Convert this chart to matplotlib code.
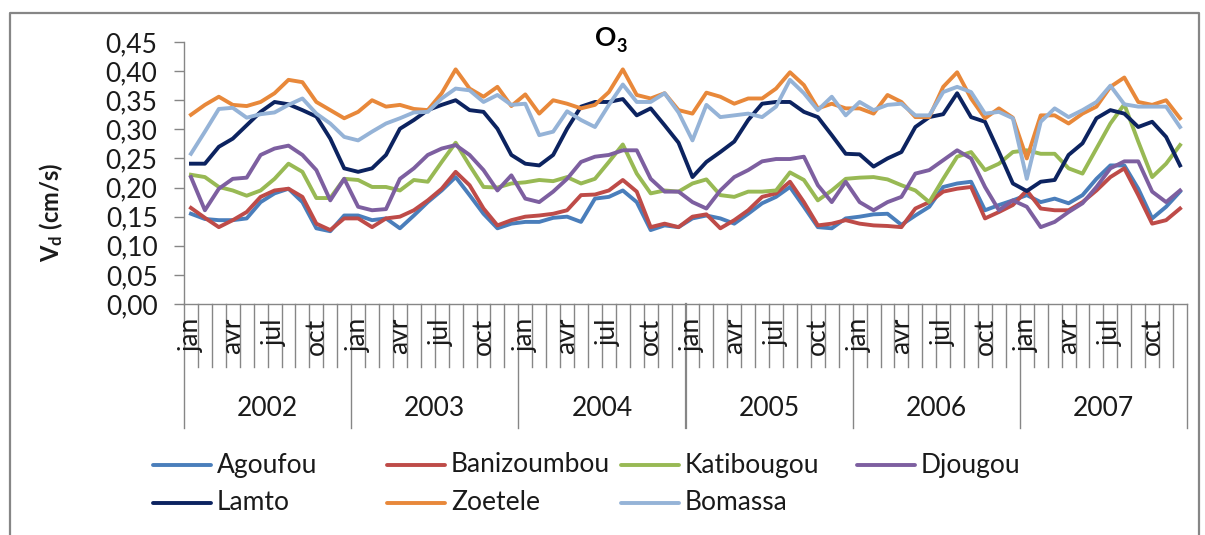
import matplotlib
matplotlib.use("Agg")
import matplotlib.pyplot as plt
from matplotlib.lines import Line2D
from matplotlib.ticker import FuncFormatter

plt.rcParams['font.family'] = ['Lato', 'DejaVu Sans']
plt.rcParams['mathtext.fontset'] = 'custom'
plt.rcParams['mathtext.rm'] = 'Lato'
plt.rcParams['mathtext.bf'] = 'Lato:bold'

years = ['2002', '2003', '2004', '2005', '2006', '2007']
month_labels = {0: 'jan', 3: 'avr', 6: 'jul', 9: 'oct'}

agoufou = [0.155, 0.146, 0.144, 0.144, 0.147, 0.175, 0.190, 0.198, 0.175, 0.130, 0.125, 0.152,
           0.152, 0.144, 0.147, 0.130, 0.152, 0.175, 0.195, 0.218, 0.187, 0.155, 0.130, 0.138,
           0.141, 0.141, 0.148, 0.150, 0.141, 0.181, 0.184, 0.195, 0.175, 0.127, 0.135, 0.132,
           0.147, 0.152, 0.147, 0.138, 0.155, 0.173, 0.184, 0.201, 0.167, 0.132, 0.130, 0.147,
           0.150, 0.154, 0.155, 0.136, 0.152, 0.167, 0.201, 0.207, 0.210, 0.161, 0.170, 0.178,
           0.187, 0.175, 0.181, 0.173, 0.187, 0.215, 0.238, 0.238, 0.198, 0.147, 0.167, 0.193]
banizoumbou = [0.165, 0.148, 0.132, 0.144, 0.158, 0.184, 0.195, 0.198, 0.184, 0.138, 0.127, 0.147,
               0.147, 0.132, 0.147, 0.150, 0.161, 0.178, 0.198, 0.227, 0.204, 0.164, 0.135, 0.144,
               0.150, 0.152, 0.155, 0.161, 0.187, 0.188, 0.195, 0.213, 0.193, 0.132, 0.138, 0.132,
               0.150, 0.154, 0.130, 0.144, 0.161, 0.184, 0.190, 0.210, 0.175, 0.135, 0.138, 0.144,
               0.138, 0.135, 0.134, 0.132, 0.164, 0.175, 0.193, 0.198, 0.201, 0.147, 0.158, 0.170,
               0.195, 0.164, 0.161, 0.161, 0.175, 0.195, 0.218, 0.233, 0.187, 0.138, 0.144, 0.164]
katibougou = [0.222, 0.218, 0.201, 0.195, 0.186, 0.195, 0.215, 0.241, 0.227, 0.182, 0.182, 0.215,
              0.213, 0.201, 0.201, 0.195, 0.213, 0.210, 0.244, 0.277, 0.238, 0.201, 0.200, 0.207,
              0.209, 0.213, 0.211, 0.218, 0.207, 0.215, 0.244, 0.274, 0.224, 0.190, 0.195, 0.193,
              0.207, 0.214, 0.187, 0.184, 0.193, 0.193, 0.195, 0.226, 0.213, 0.178, 0.195, 0.215,
              0.217, 0.218, 0.214, 0.204, 0.195, 0.175, 0.215, 0.253, 0.261, 0.230, 0.241, 0.261,
              0.264, 0.258, 0.258, 0.233, 0.224, 0.267, 0.310, 0.343, 0.279, 0.218, 0.241, 0.273]
djougou = [0.218, 0.161, 0.198, 0.215, 0.217, 0.256, 0.267, 0.272, 0.256, 0.230, 0.178, 0.215,
           0.167, 0.161, 0.163, 0.215, 0.233, 0.256, 0.267, 0.273, 0.256, 0.230, 0.195, 0.221,
           0.181, 0.175, 0.193, 0.215, 0.244, 0.253, 0.256, 0.264, 0.264, 0.215, 0.193, 0.193,
           0.175, 0.164, 0.195, 0.218, 0.230, 0.245, 0.249, 0.249, 0.253, 0.204, 0.175, 0.210,
           0.175, 0.161, 0.175, 0.184, 0.224, 0.230, 0.247, 0.264, 0.250, 0.201, 0.161, 0.178,
           0.167, 0.132, 0.141, 0.158, 0.173, 0.201, 0.233, 0.245, 0.245, 0.193, 0.175, 0.195]
lamto = [0.241, 0.241, 0.270, 0.284, 0.307, 0.330, 0.347, 0.343, 0.333, 0.322, 0.284, 0.233,
         0.227, 0.233, 0.256, 0.301, 0.316, 0.333, 0.342, 0.350, 0.333, 0.330, 0.301, 0.256,
         0.241, 0.238, 0.256, 0.301, 0.339, 0.347, 0.347, 0.352, 0.324, 0.336, 0.307, 0.277,
         0.218, 0.244, 0.261, 0.279, 0.316, 0.344, 0.347, 0.347, 0.330, 0.321, 0.290, 0.258,
         0.257, 0.236, 0.250, 0.261, 0.304, 0.321, 0.326, 0.362, 0.321, 0.313, 0.261, 0.207,
         0.194, 0.210, 0.213, 0.256, 0.276, 0.319, 0.333, 0.327, 0.304, 0.313, 0.287, 0.238]
zoetele = [0.325, 0.342, 0.356, 0.342, 0.340, 0.347, 0.362, 0.385, 0.381, 0.347, 0.333, 0.319,
           0.330, 0.350, 0.339, 0.342, 0.335, 0.333, 0.362, 0.403, 0.370, 0.356, 0.373, 0.340,
           0.360, 0.327, 0.350, 0.344, 0.336, 0.342, 0.364, 0.403, 0.359, 0.353, 0.362, 0.333,
           0.327, 0.363, 0.356, 0.344, 0.353, 0.353, 0.370, 0.398, 0.376, 0.336, 0.344, 0.336,
           0.336, 0.327, 0.359, 0.347, 0.321, 0.321, 0.373, 0.398, 0.353, 0.319, 0.336, 0.320,
           0.250, 0.324, 0.324, 0.310, 0.327, 0.339, 0.373, 0.389, 0.347, 0.342, 0.350, 0.319]
bomassa = [0.258, 0.296, 0.335, 0.337, 0.320, 0.326, 0.329, 0.342, 0.353, 0.327, 0.310, 0.287,
           0.281, 0.296, 0.310, 0.319, 0.329, 0.330, 0.353, 0.370, 0.367, 0.347, 0.359, 0.342,
           0.344, 0.290, 0.296, 0.331, 0.316, 0.304, 0.342, 0.377, 0.347, 0.347, 0.362, 0.329,
           0.281, 0.342, 0.321, 0.324, 0.327, 0.321, 0.339, 0.385, 0.362, 0.333, 0.356, 0.324,
           0.347, 0.333, 0.342, 0.344, 0.324, 0.324, 0.364, 0.373, 0.364, 0.327, 0.330, 0.319,
           0.215, 0.313, 0.336, 0.321, 0.333, 0.347, 0.375, 0.343, 0.339, 0.339, 0.339, 0.304]

series = [('Agoufou', agoufou, '#4a7ebb'),
          ('Banizoumbou', banizoumbou, '#be4b48'),
          ('Katibougou', katibougou, '#98b954'),
          ('Djougou', djougou, '#7d5fa0'),
          ('Lamto', lamto, '#0c2360'),
          ('Zoetele', zoetele, '#e8883a'),
          ('Bomassa', bomassa, '#95b3d7')]

W, H = 1205, 535
fig = plt.figure(figsize=(W / 100, H / 100), dpi=100)
GRAY = '#868686'
TXT = '#1a1a1a'
FS = 19


def fx(px):
    return px / W


def fy(py):
    return 1 - py / H


# plot area
x0, x1, ytop, ybot = 184, 1187, 42, 304
ax = fig.add_axes([fx(x0), fy(ybot), fx(x1 - x0), (ybot - ytop) / H])
n = len(agoufou)
months = list(range(n))
for name, vals, col in series:
    ax.plot(months, vals, color=col, lw=2.8, solid_joinstyle='round')

ax.set_xlim(-0.5, n - 0.5)
ax.set_ylim(0, 0.45)
ax.set_yticks([i * 0.05 for i in range(10)])
ax.yaxis.set_major_formatter(FuncFormatter(lambda v, p: f'{v:.2f}'.replace('.', ',')))
ax.tick_params(axis='y', direction='out', length=7, width=1, color=GRAY,
               labelsize=FS, pad=12, labelcolor=TXT)
ax.set_xticks([])
for s in ['top', 'right']:
    ax.spines[s].set_visible(False)
for s in ['left', 'bottom']:
    ax.spines[s].set_color(GRAY)
    ax.spines[s].set_linewidth(1)

# two-level category axis: month cells then year cells
ph = ybot - ytop
xt = ax.get_xaxis_transform()
for k in range(n + 1):
    year_edge = k % 12 == 0
    bottom = -(428 - ybot) / ph if year_edge else -(367 - ybot) / ph
    lw = 1.6 if k == 36 else 1.0
    ax.plot([k - 0.5, k - 0.5], [0, bottom], transform=xt, color=GRAY,
            lw=lw, clip_on=False)
for k in range(n):
    if k % 12 in month_labels:
        ax.text(k, -(318 - ybot) / ph, month_labels[k % 12], transform=xt,
                rotation=90, ha='center', va='top', fontsize=FS, color=TXT)
for i, yr in enumerate(years):
    ax.text(i * 12 + 5.5, -(408 - ybot) / ph, yr, transform=xt,
            ha='center', va='center', fontsize=FS, color=TXT)

# title O3
fig.text(fx(606), fy(38), 'O', ha='center', va='center', fontsize=19,
         fontweight='bold', color='black')
fig.text(fx(622), fy(46), '3', ha='center', va='center', fontsize=13,
         fontweight='bold', color='black')
fig.text(fx(51), fy(212), r'$\mathbf{V_d}$ (cm/s)', rotation=90, ha='center',
         va='center', fontsize=17, fontweight='bold', color=TXT)

# legend, four equal columns
col_x = [153, 387, 621, 857]
rows = [465, 503]
for i, (name, vals, col) in enumerate(series):
    r, c = divmod(i, 4)
    lx = col_x[c]
    yy = fy(rows[r])
    fig.add_artist(Line2D([fx(lx), fx(lx + 58)], [yy, yy], color=col, lw=2.8,
                          solid_capstyle='round'))
    fig.text(fx(lx + 64), yy, name, ha='left', va='center', fontsize=FS, color=TXT)

# chart border
fig.add_artist(Line2D([fx(10), fx(10), fx(1199), fx(1199)],
                      [fy(560), fy(13), fy(13), fy(560)], color=GRAY, lw=1.6))

fig.savefig('out.png', dpi=100)
